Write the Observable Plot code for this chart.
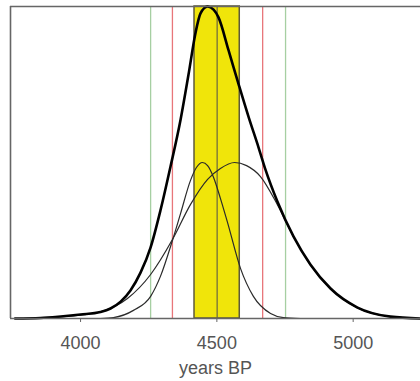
<!DOCTYPE html>
<html>
<head>
<meta charset="utf-8">
<script src="https://cdn.jsdelivr.net/npm/d3@7"></script>
<script src="https://cdn.jsdelivr.net/npm/@observablehq/plot@0.6"></script>
<style>
  html, body { margin: 0; padding: 0; background: #fff; }
  svg { display: block; }
</style>
</head>
<body>
<div id="chart"></div>
<script>
// x domain (years BP) visible in the panel
const xDomain = [3743, 5247];
const xTicks = [4000, 4500, 5000];

// combined (thick) curve
const sumYears = [3760, 3853, 3927, 4000, 4073, 4110, 4147, 4183, 4220, 4257, 4293, 4330, 4367, 4396, 4422, 4440, 4466, 4488, 4506, 4543, 4579, 4616, 4653, 4678, 4722, 4781, 4843, 4917, 5016, 5137, 5247];
const sumDens  = [0.0, 0.0016, 0.0064, 0.0128, 0.021, 0.032, 0.054, 0.090, 0.147, 0.228, 0.346, 0.487, 0.638, 0.782, 0.917, 0.978, 1.0, 0.990, 0.965, 0.859, 0.753, 0.647, 0.548, 0.478, 0.375, 0.263, 0.173, 0.096, 0.035, 0.006, 0.0];

// narrow component
const narrowYears = [4073, 4121, 4194, 4257, 4293, 4337, 4367, 4403, 4425, 4447, 4466, 4488, 4513, 4539, 4587, 4634, 4697, 4744, 4807];
const narrowDens  = [0.0, 0.003, 0.026, 0.071, 0.135, 0.25, 0.337, 0.442, 0.484, 0.50, 0.490, 0.452, 0.385, 0.308, 0.160, 0.071, 0.016, 0.003, 0.0];

// broad component
const broadYears = [3760, 3853, 3927, 4000, 4073, 4172, 4257, 4337, 4403, 4466, 4513, 4565, 4609, 4660, 4722, 4781, 4843, 4917, 5016, 5137, 5247];
const broadDens  = [0.0, 0.0016, 0.0055, 0.011, 0.021, 0.064, 0.141, 0.253, 0.365, 0.446, 0.481, 0.50, 0.490, 0.455, 0.365, 0.263, 0.172, 0.095, 0.034, 0.006, 0.0];

// interval markers
const bandRange = [4418, 4584];
const centerYear = [4501];
const redYears = [4337, 4668];
const greenYears = [4257, 4752];

const toPts = (xs, ys) => xs.map((x, i) => ({x, y: ys[i]}));
const sumPts = toPts(sumYears, sumDens);
const narrowPts = toPts(narrowYears, narrowDens);
const broadPts = toPts(broadYears, broadDens);

const chart = Plot.plot({
  width: 420,
  height: 381,
  marginLeft: 10,
  marginRight: 0,
  marginTop: 6,
  marginBottom: 63,
  style: { fontFamily: "'Liberation Sans', Arial, sans-serif", fontSize: "18px", color: "#555", background: "#fff" },
  x: { domain: xDomain },
  y: { domain: [0, 1], axis: null },
  marks: [
    Plot.rect([{x1: bandRange[0], x2: bandRange[1]}], { x1: "x1", x2: "x2", fill: "#f0e50a", stroke: "#5e5a3a", strokeWidth: 1.5 }),
    Plot.ruleX(centerYear, { stroke: "#6a6640", strokeWidth: 1.2 }),
    Plot.ruleX(redYears, { stroke: "#e8767a", strokeWidth: 1.3 }),
    Plot.ruleX(greenYears, { stroke: "#a6cfa2", strokeWidth: 1.3 }),
    Plot.line(narrowPts, { x: "x", y: "y", curve: "monotone-x", stroke: "#2a2a2a", strokeWidth: 1.2 }),
    Plot.line(broadPts, { x: "x", y: "y", curve: "monotone-x", stroke: "#2a2a2a", strokeWidth: 1.2 }),
    Plot.line(sumPts, { x: "x", y: "y", curve: "monotone-x", stroke: "#000", strokeWidth: 2.6 }),
    Plot.ruleY([0], { stroke: "#666", strokeWidth: 1.6 }),
    Plot.ruleY([1], { stroke: "#666", strokeWidth: 1.6 }),
    Plot.ruleX([xDomain[0]], { stroke: "#666", strokeWidth: 1.6 }),
    Plot.axisX({ ticks: xTicks, tickFormat: d => String(d), tickSize: 4, tickPadding: 14, stroke: "#666", fill: "#555", fontSize: 18, label: "years BP", labelAnchor: "center", labelArrow: "none", labelOffset: 55 })
  ]
});
document.getElementById("chart").appendChild(chart);
</script>
</body>
</html>
